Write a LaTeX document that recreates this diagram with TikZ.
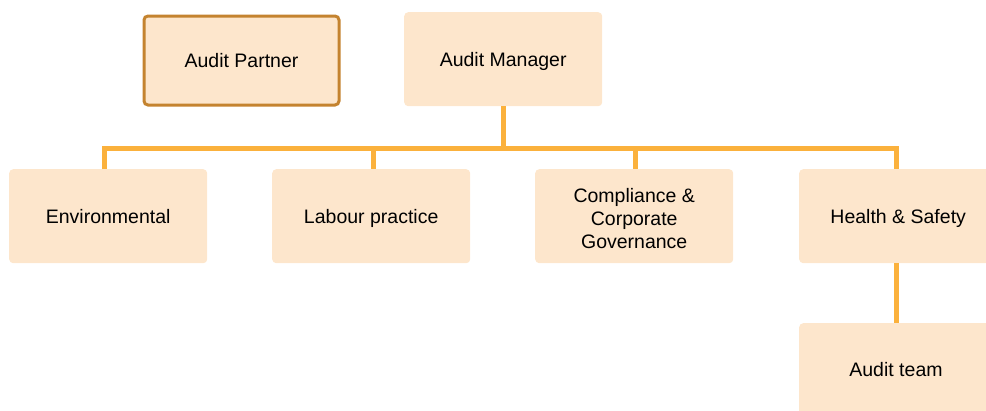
\documentclass[tikz,border=0pt]{standalone}
\usepackage{fontspec}
\setmainfont{Liberation Sans}
\begin{document}
\begin{tikzpicture}[x=1pt,y=-1pt,
  lbl/.style={font=\fontsize{19.5}{23}\selectfont, align=center, inner sep=0pt},
  one/.style={lbl, text height=14pt, text depth=0pt},
  box/.style={fill=boxfill, rounded corners=4pt, minimum width=198pt, minimum height=94pt,
    inner sep=0pt, anchor=north west},
  partner/.style={box, draw=partnerborder, line width=3pt, minimum width=195pt, minimum height=89pt},
  link/.style={draw=linkcol, line width=5pt}]
\definecolor{boxfill}{HTML}{FDE6CC}
\definecolor{partnerborder}{HTML}{C4832F}
\definecolor{linkcol}{HTML}{FBB13C}
\useasboundingbox (0,0) rectangle (986,410);
\clip (0,0) rectangle (986,410);
\node[partner] (partner) at (142.5,14.5) {};
\node[box] (manager) at (404,12) {};
\node[box] (env) at (9,169) {};
\node[box] (labour) at (272,169) {};
\node[box] (comp) at (535,169) {};
\node[box] (health) at (799,169) {};
\node[box] (team) at (799,323) {};
\node[one] (partnerlbl) at (partner.center) {Audit Partner};
\node[one] (managerlbl) at (manager.center) {Audit Manager};
\node[one] (envlbl) at (env.center) {Environmental};
\node[one] (labourlbl) at (labour.center) {Labour practice};
\node[lbl] (complbl) at ([yshift=-2pt]comp.center) {Compliance \&\\ Corporate\\ Governance};
\node[one] (healthlbl) at (health.center) {Health \& Safety};
\node[one] (teamlbl) at (896,369) {Audit team};
\coordinate (bus) at (503,148);
\draw[link] (manager.south -| bus) -- (bus);
\draw[link] (env.north -| 104,0) |- (bus) -| (labour.north -| 373,0);
\draw[link] (bus) -| (comp.north -| 635,0);
\draw[link] (bus) -| (health.north -| 896,0);
\draw[link] (health.south -| 896,0) -- (team.north -| 896,0);
\end{tikzpicture}
\end{document}
